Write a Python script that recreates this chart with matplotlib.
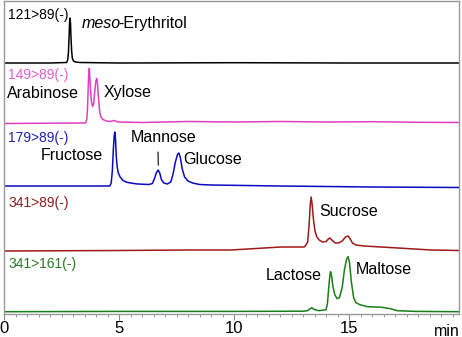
import matplotlib.pyplot as plt

plt.rcParams['font.family'] = ['Liberation Sans', 'DejaVu Sans']

# retention time (min) / relative intensity
ery_t = [0, 2.0, 2.72, 2.77, 2.80, 2.83, 2.85, 2.87, 2.89, 2.91, 2.94, 2.97, 3.02, 3.1, 3.3, 5, 10, 15, 19.8]
ery_y = [0, 0, 0.5, 3, 10, 27, 40, 45, 40, 27, 12, 5, 2, 1, 0.5, 0, 0.3, 0, 0]

ara_t = [0, 2, 3.55, 3.6, 3.63, 3.66, 3.68, 3.70, 3.72, 3.75, 3.80, 3.85, 3.90, 3.95, 3.99, 4.03, 4.06,
         4.10, 4.15, 4.2, 4.3, 4.45, 4.6, 4.8, 4.95, 6, 8, 10, 12, 14, 16, 18, 19.8]
ara_y = [0, 0.3, 0.5, 4, 15, 35, 48, 55, 51, 38, 22, 17, 20, 33, 42, 45, 41,
         28, 14, 7, 4, 2.5, 2, 3, 1.5, 1, 2, 1.5, 2, 1.5, 1.8, 1.2, 1]

glc_t = [0, 2, 4.6, 4.66, 4.71, 4.75, 4.79, 4.82, 4.85, 4.88, 4.92, 4.97, 5.05, 5.15, 5.3, 5.5, 5.8, 6.3,
         6.45, 6.55, 6.62, 6.7, 6.77, 6.85, 6.95, 7.1, 7.25, 7.35, 7.45, 7.55, 7.6, 7.66, 7.75, 7.85,
         8.0, 8.2, 8.5, 9, 12, 16, 19.8]
glc_y = [0, 0, 0, 3, 15, 35, 50, 54, 46, 30, 19, 13, 9, 6, 4, 3, 2, 1.5,
         2.5, 8, 13, 16, 13, 6, 3, 2, 4, 12, 24, 32, 33, 29, 17, 9,
         5, 3, 1.5, 1, 0, -1, -1.5]

suc_t = [0, 5, 8, 9.87, 12.04, 13.04, 13.1, 13.2, 13.26, 13.31, 13.35, 13.39, 13.45, 13.52, 13.6, 13.7,
         13.85, 14.0, 14.1, 14.17, 14.25, 14.4, 14.55, 14.7, 14.85, 14.96, 15.05, 15.15, 15.3, 15.65,
         17.13, 18.57, 19.8]
suc_y = [0, 0.5, 1, 1, 4, 4, 5, 9, 25, 45, 54, 48, 32, 20, 14, 11,
         9, 9.5, 12, 13, 11, 8, 8, 10, 14, 15, 12, 8, 6, 5,
         3, 1, 0.5]

lac_t = [0, 5, 10, 13.0, 13.2, 13.3, 13.38, 13.5, 13.7, 14.0, 14.06, 14.12, 14.17, 14.2, 14.24, 14.3,
         14.38, 14.48, 14.58, 14.7, 14.8, 14.9, 14.96, 15.02, 15.1, 15.2, 15.3, 15.47, 15.8, 16.4,
         16.8, 17.1, 17.9, 19.8]
lac_y = [0, 0.3, 0.3, 0.5, 1, 3, 4, 2, 1, 2, 8, 25, 37, 40, 36, 25,
         17, 13, 14, 24, 42, 53, 55, 49, 30, 14, 9, 7, 5, 4.5,
         3, 1, 0.3, 0]

traces = [
    (ery_t, ery_y, '#000000', '121>89(-)', '#000000'),
    (ara_t, ara_y, '#e040c0', '149>89(-)', '#e060c8'),
    (glc_t, glc_y, '#0a0ac0', '179>89(-)', '#2020b0'),
    (suc_t, suc_y, '#a01818', '341>89(-)', '#8b1e1e'),
    (lac_t, lac_y, '#1a7d1a', '341>161(-)', '#2a7a2a'),
]
offsets = [251, 190.5, 128, 63, 2.3]

fig = plt.figure(figsize=(4.62, 3.37), dpi=100)
ax = fig.add_axes([4 / 462, 23 / 337, 455 / 462, 313 / 337])

for (t, y, col, lab, labcol), off in zip(traces, offsets):
    ax.plot(t, [v + off for v in y], color=col, lw=1.1, solid_joinstyle='round')
    ax.text(0.17, off + 48, lab, color=labcol, fontsize=10, va='center', ha='left')

ax.set_xlim(0, 19.78)
ax.set_ylim(0, 313)

name_kw = dict(fontsize=11.5, va='center', ha='left', color='black')
ax.text(3.39, 290.5, 'meso', style='italic', **name_kw)
ax.text(4.95, 290.5, '-Erythritol', **name_kw)
ax.text(0.12, 221, 'Arabinose', **name_kw)
ax.text(4.35, 221, 'Xylose', **name_kw)
ax.text(1.6, 159, 'Fructose', **name_kw)
ax.text(7.8, 155, 'Glucose', **name_kw)
ax.annotate('Mannose', xy=(6.71, 149), xytext=(5.52, 176.3), fontsize=11.5, va='center', ha='left',
            arrowprops=dict(arrowstyle='-', color='#333333', lw=1, relpos=(0.41, 0), shrinkA=3, shrinkB=0))
ax.text(13.7, 103, 'Sucrose', **name_kw)
ax.text(11.4, 38, 'Lactose', **name_kw)
ax.text(15.3, 44, 'Maltose', **name_kw)

for s in ax.spines.values():
    s.set_color('#999999')
    s.set_linewidth(1)
ax.set_yticks([])
ax.set_xticks([0, 5, 10, 15])
ax.set_xticks([i * 0.5 for i in range(40)], minor=True)
ax.tick_params(axis='x', which='major', direction='out', length=4, color='#888888', labelsize=12, pad=1)
ax.tick_params(axis='x', which='minor', direction='out', length=2.5, color='#888888')
fig.text(434 / 462, 1 - 331 / 337, 'min', fontsize=11.5, va='center', ha='left')

fig.savefig('out.png', dpi=100)
